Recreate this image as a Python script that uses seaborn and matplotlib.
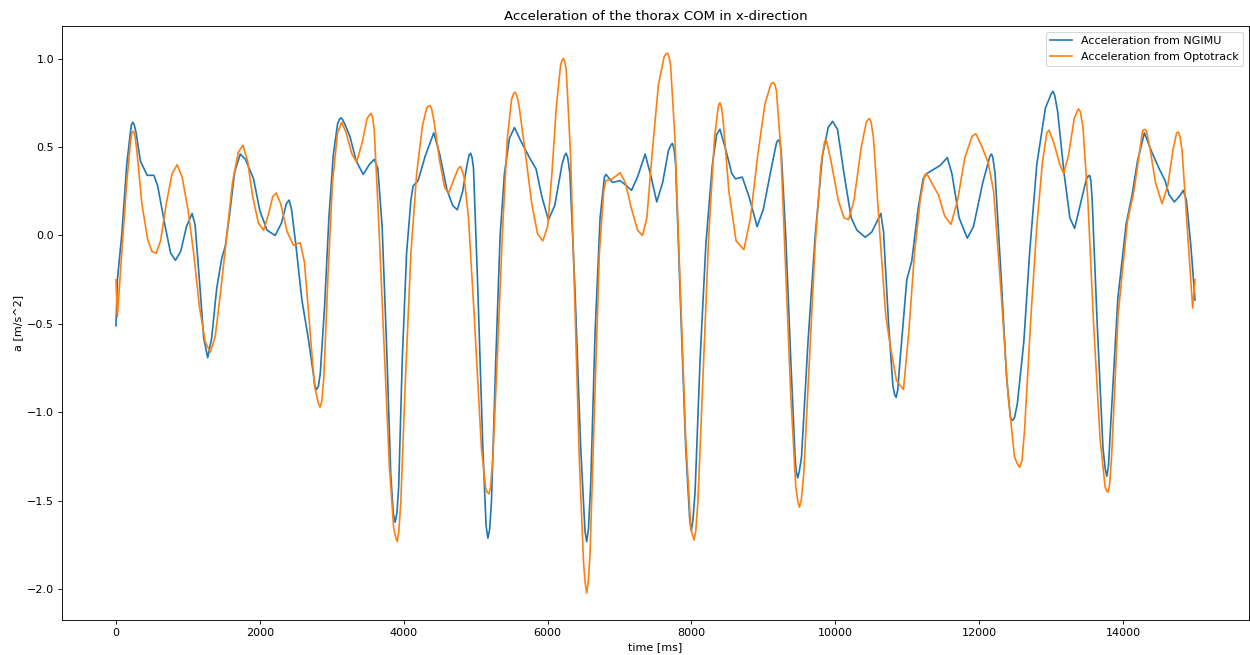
import matplotlib
matplotlib.use("Agg")
import matplotlib.pyplot as plt
import seaborn as sns
import pandas as pd

title = "Acceleration of the thorax COM in x-direction"
x_label = "time [ms]"
y_label = "a [m/s^2]"
labels = ["Acceleration from NGIMU", "Acceleration from Optotrack"]

ngimu_pts = [
    (0, -0.51), (20, -0.25), (80, 0.0), (150, 0.40), (200, 0.58), (215, 0.625), (236, 0.64),
    (258, 0.62), (280, 0.58),
    (340, 0.42), (434, 0.34), (527, 0.34), (580, 0.28), (680, 0.06), (760, -0.10), (827, -0.14),
    (900, -0.09), (980, 0.05), (1058, 0.125), (1100, 0.06), (1160, -0.25), (1220, -0.58),
    (1275, -0.69), (1330, -0.58), (1400, -0.30), (1470, -0.13), (1520, -0.06), (1580, 0.12),
    (1650, 0.36), (1728, 0.46), (1800, 0.43), (1913, 0.32), (2000, 0.14), (2100, 0.03),
    (2213, 0.0), (2300, 0.07), (2370, 0.18), (2407, 0.20), (2440, 0.15), (2500, -0.05),
    (2583, -0.36), (2675, -0.585), (2750, -0.80), (2765, -0.85), (2790, -0.87), (2815, -0.85),
    (2840, -0.78), (2900, -0.40),
    (2960, 0.10), (3020, 0.45), (3080, 0.63), (3105, 0.655), (3127, 0.665), (3150, 0.655),
    (3180, 0.63), (3252, 0.56),
    (3340, 0.42), (3438, 0.345), (3520, 0.40), (3590, 0.43), (3640, 0.38), (3700, 0.05),
    (3760, -0.60), (3820, -1.35), (3855, -1.57), (3881, -1.62), (3905, -1.57), (3930, -1.42),
    (3980, -0.70), (4040, -0.10),
    (4100, 0.20), (4131, 0.28), (4200, 0.31), (4300, 0.45), (4418, 0.58), (4500, 0.46),
    (4600, 0.26), (4680, 0.17), (4745, 0.145), (4820, 0.25), (4880, 0.40), (4910, 0.455),
    (4930, 0.465), (4950, 0.44),
    (4970, 0.38), (5030, -0.30), (5100, -1.20), (5145, -1.64), (5170, -1.71), (5195, -1.66),
    (5220, -1.50), (5280, -0.70),
    (5340, 0.00), (5400, 0.35), (5470, 0.55), (5540, 0.61), (5620, 0.54), (5748, 0.44),
    (5840, 0.376), (5920, 0.22), (6011, 0.088), (6100, 0.17), (6200, 0.40), (6235, 0.45),
    (6257, 0.465), (6280, 0.44),
    (6310, 0.35), (6380, -0.30), (6460, -1.20), (6520, -1.67), (6543, -1.73), (6568, -1.66),
    (6600, -1.40), (6660, -0.55),
    (6730, 0.10), (6790, 0.33), (6811, 0.345), (6903, 0.30), (7009, 0.31), (7100, 0.28),
    (7166, 0.255), (7250, 0.33), (7356, 0.46), (7440, 0.33), (7517, 0.19), (7600, 0.30),
    (7680, 0.48), (7712, 0.51), (7735, 0.52), (7758, 0.49), (7780, 0.40), (7840, -0.30),
    (7920, -1.20), (7975, -1.60), (7998, -1.67), (8022, -1.60),
    (8050, -1.45), (8120, -0.70), (8200, -0.05), (8290, 0.40), (8350, 0.57), (8396, 0.60),
    (8480, 0.48), (8560, 0.35), (8613, 0.32), (8706, 0.33), (8800, 0.22), (8913, 0.05),
    (9000, 0.15), (9100, 0.36), (9180, 0.52), (9195, 0.535), (9214, 0.54), (9232, 0.52),
    (9250, 0.46), (9310, 0.00),
    (9380, -0.70), (9440, -1.25), (9455, -1.33), (9477, -1.37), (9500, -1.33), (9530, -1.25),
    (9620, -0.60), (9720, 0.00),
    (9820, 0.45), (9900, 0.61), (9962, 0.645), (10030, 0.60), (10120, 0.35), (10220, 0.10),
    (10300, 0.03), (10415, -0.01), (10507, 0.02), (10580, 0.08), (10632, 0.125), (10670, 0.02),
    (10740, -0.50), (10800, -0.85), (10825, -0.90), (10845, -0.915), (10868, -0.87),
    (10900, -0.70), (10993, -0.25),
    (11062, -0.145), (11150, 0.15), (11220, 0.32), (11270, 0.35), (11454, 0.395), (11556, 0.44),
    (11620, 0.35), (11720, 0.10), (11834, -0.015), (11920, 0.05), (12050, 0.30), (12150, 0.45),
    (12171, 0.46), (12190, 0.44),
    (12220, 0.35), (12300, -0.20), (12380, -0.80), (12435, -1.03), (12462, -1.045),
    (12490, -1.03), (12530, -0.95),
    (12620, -0.60), (12700, -0.10), (12800, 0.40), (12920, 0.72), (13000, 0.80), (13026, 0.815),
    (13050, 0.79), (13090, 0.70),
    (13180, 0.35), (13260, 0.10), (13326, 0.04), (13420, 0.20), (13490, 0.32), (13515, 0.335),
    (13534, 0.34), (13552, 0.31),
    (13570, 0.20), (13640, -0.50), (13720, -1.20), (13752, -1.32), (13774, -1.36),
    (13797, -1.30), (13830, -1.05),
    (13927, -0.355), (14042, 0.065), (14125, 0.23), (14200, 0.42), (14296, 0.58), (14400, 0.47),
    (14504, 0.375), (14583, 0.31), (14640, 0.23), (14712, 0.19), (14780, 0.22), (14837, 0.255),
    (14880, 0.20), (14940, -0.05), (15000, -0.365),
]

opto_pts = [
    (0, -0.25), (20, -0.46), (80, -0.10), (150, 0.30), (200, 0.52), (220, 0.58), (240, 0.59),
    (262, 0.57), (290, 0.48),
    (360, 0.18), (440, -0.02), (500, -0.09), (559, -0.10), (620, -0.03), (700, 0.18), (780, 0.35),
    (850, 0.40), (920, 0.33), (1000, 0.15), (1080, -0.10), (1160, -0.40), (1240, -0.60),
    (1312, -0.66), (1380, -0.57), (1460, -0.30), (1540, 0.00), (1620, 0.30), (1700, 0.47),
    (1765, 0.51), (1830, 0.42), (1900, 0.22), (1980, 0.07), (2052, 0.03), (2120, 0.12),
    (2180, 0.22), (2227, 0.24), (2290, 0.18), (2380, 0.02), (2467, -0.055), (2560, -0.04),
    (2620, -0.15), (2680, -0.45), (2760, -0.85), (2815, -0.95), (2837, -0.97), (2860, -0.94),
    (2890, -0.80), (2950, -0.20),
    (3010, 0.30), (3080, 0.58), (3137, 0.64), (3200, 0.58), (3280, 0.46), (3345, 0.415),
    (3420, 0.52), (3490, 0.66), (3522, 0.68), (3544, 0.69), (3566, 0.67), (3590, 0.60),
    (3650, 0.10), (3720, -0.55),
    (3800, -1.30), (3860, -1.65), (3885, -1.70), (3909, -1.73), (3933, -1.67), (3960, -1.50),
    (4020, -0.85), (4100, -0.10),
    (4180, 0.35), (4260, 0.62), (4320, 0.72), (4340, 0.73), (4362, 0.735), (4385, 0.72),
    (4420, 0.65), (4500, 0.42),
    (4570, 0.27), (4625, 0.24), (4700, 0.32), (4760, 0.38), (4792, 0.39), (4840, 0.33),
    (4900, 0.10), (4980, -0.45), (5080, -1.20), (5140, -1.43), (5162, -1.45), (5184, -1.46),
    (5208, -1.42), (5240, -1.25),
    (5300, -0.70), (5370, 0.00), (5440, 0.55), (5500, 0.77), (5525, 0.80), (5549, 0.81),
    (5572, 0.79), (5600, 0.74),
    (5680, 0.50), (5780, 0.18), (5860, 0.01), (5933, -0.03), (6000, 0.05), (6060, 0.35),
    (6120, 0.72), (6180, 0.96), (6200, 0.99), (6220, 1.00), (6240, 0.98), (6260, 0.93),
    (6320, 0.45), (6380, -0.40),
    (6440, -1.25), (6500, -1.85), (6522, -1.96), (6543, -2.02), (6565, -1.96), (6590, -1.80),
    (6650, -1.00), (6720, -0.10),
    (6780, 0.25), (6811, 0.31), (6900, 0.32), (7009, 0.355), (7080, 0.30), (7160, 0.16),
    (7250, 0.03), (7319, 0.00), (7380, 0.10), (7450, 0.45), (7540, 0.85), (7620, 1.01),
    (7645, 1.025), (7666, 1.03), (7688, 1.01), (7710, 0.96), (7770, 0.55), (7840, -0.25),
    (7920, -1.15), (7990, -1.65), (8013, -1.69), (8036, -1.72), (8060, -1.67), (8090, -1.50),
    (8160, -0.80), (8240, 0.00), (8320, 0.55), (8370, 0.72), (8380, 0.74), (8396, 0.75),
    (8415, 0.73), (8440, 0.65), (8520, 0.25), (8620, -0.03), (8729, -0.08), (8820, 0.10),
    (8920, 0.45), (9020, 0.74), (9100, 0.85), (9115, 0.86), (9135, 0.865), (9158, 0.855),
    (9180, 0.82), (9240, 0.50),
    (9300, -0.10), (9380, -0.90), (9450, -1.42), (9478, -1.50), (9500, -1.535), (9525, -1.50),
    (9560, -1.35), (9640, -0.70),
    (9720, -0.05), (9800, 0.40), (9850, 0.53), (9874, 0.54), (9940, 0.42), (10040, 0.20),
    (10120, 0.10), (10184, 0.09), (10260, 0.20), (10360, 0.50), (10430, 0.64), (10455, 0.655),
    (10475, 0.66), (10498, 0.64),
    (10530, 0.55), (10620, 0.00), (10700, -0.45), (10762, -0.62), (10850, -0.82),
    (10947, -0.87), (11020, -0.55), (11100, -0.10), (11180, 0.20), (11240, 0.34), (11270, 0.35),
    (11350, 0.29), (11432, 0.23), (11520, 0.11), (11607, 0.063), (11700, 0.20), (11800, 0.44),
    (11900, 0.56), (11953, 0.575), (12040, 0.50), (12125, 0.41), (12200, 0.25), (12300, -0.30),
    (12400, -0.90), (12490, -1.25), (12530, -1.29), (12563, -1.31), (12595, -1.27),
    (12630, -1.10), (12720, -0.45),
    (12800, 0.05), (12880, 0.42), (12940, 0.58), (12970, 0.595), (13040, 0.52), (13120, 0.40),
    (13173, 0.35), (13240, 0.45), (13320, 0.66), (13360, 0.70), (13381, 0.715), (13405, 0.70),
    (13440, 0.62), (13510, 0.20),
    (13590, -0.50), (13680, -1.15), (13750, -1.42), (13768, -1.44), (13789, -1.45),
    (13812, -1.41), (13840, -1.25),
    (13930, -0.45), (14060, 0.08), (14150, 0.25), (14220, 0.45), (14270, 0.59), (14296, 0.60),
    (14325, 0.59), (14370, 0.50),
    (14450, 0.30), (14541, 0.18), (14620, 0.28), (14700, 0.50), (14745, 0.58), (14767, 0.585),
    (14790, 0.56), (14820, 0.48),
    (14900, 0.00), (14967, -0.41), (15000, -0.25),
]

colors = ["#1f77b4", "#ff7f0e"]

fig = plt.figure(figsize=(15.625, 8.1875), dpi=80)
ax = fig.add_subplot(111)
fig.subplots_adjust(left=0.0496, right=0.9992, bottom=0.0534, top=0.960)

for pts, lab, col in zip([ngimu_pts, opto_pts], labels, colors):
    df = pd.DataFrame(pts, columns=["t", "a"]).sort_values("t")
    sns.lineplot(data=df, x="t", y="a", ax=ax, label=lab, color=col,
                 linewidth=1.5, estimator=None, sort=False)

ax.set_title(title)
ax.set_xlabel(x_label)
ax.set_ylabel(y_label)
ax.legend(loc="upper right")

fig.savefig("out.png", dpi=80)
